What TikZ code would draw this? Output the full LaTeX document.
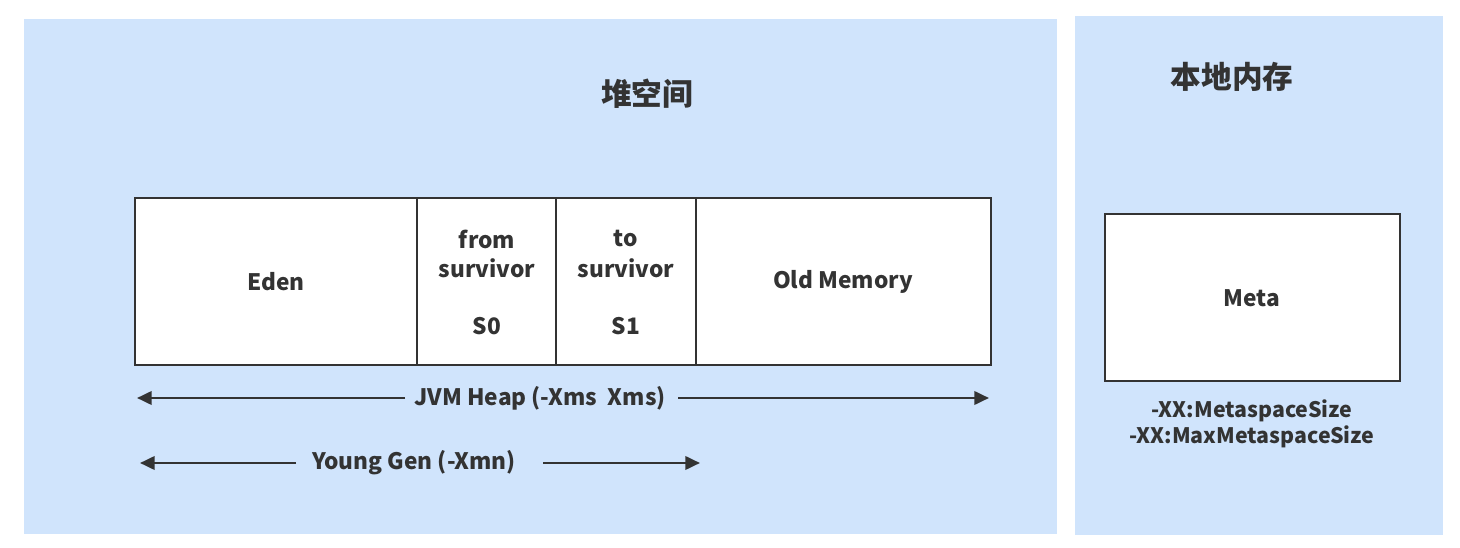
\documentclass[tikz,border=0pt]{standalone}
\usepackage{fontspec}
\setmainfont{Noto Sans CJK SC}
\usetikzlibrary{arrows.meta}
\definecolor{panelblue}{RGB}{208,228,252}
\definecolor{ink}{RGB}{51,51,51}
\tikzset{
  panel/.style={fill=panelblue, draw=none},
  cell/.style={draw=ink, line width=2.2pt, fill=white},
  lbl/.style={text=ink, font=\fontsize{17}{20}\selectfont\bfseries, align=center, inner sep=0pt},
  title/.style={text=ink, font=\fontsize{23}{27}\selectfont\bfseries, inner sep=0pt},
  arr/.style={draw=ink, line width=2pt, -{Triangle[length=11pt,width=10pt]}},
}
\begin{document}
\begin{tikzpicture}[x=0.75pt,y=-0.75pt]
\useasboundingbox (0,0) rectangle (1460,548);
\fill[white] (0,0) rectangle (1460,548);
% panels
\path[panel] (24,19) rectangle (1057,534);
\path[panel] (1075,16) rectangle (1443,535);
\node[title] (heapT) at (647,94) {堆空间};
\node[title] (nativeT) at (1232,77) {本地内存};
% heap cells
\draw[cell] (135,198) rectangle (417,365);
\draw[cell] (417,198) rectangle (556,365);
\draw[cell] (556,198) rectangle (696,365);
\draw[cell] (696,198) rectangle (991,365);
\node[lbl] (eden) at (276,282) {Eden};
\node[lbl] (from1) at (487,239) {from};
\node[lbl] (from2) at (487,268) {survivor};
\node[lbl] (s0) at (487,326) {S0};
\node[lbl] (to1) at (626,239) {to};
\node[lbl] (to2) at (626,268) {survivor};
\node[lbl] (s1) at (626,326) {S1};
\node[lbl] (old) at (843,282) {Old Memory};
% meta
\draw[cell] (1105,214) rectangle (1400,381);
\node[lbl] (meta) at (1252,298) {Meta};
\node[lbl, font=\fontsize{16}{19.5}\selectfont\bfseries] (metaopt) at (1252,424) {-XX:MetaspaceSize\\-XX:MaxMetaspaceSize};
% arrows
\node[lbl] (jvm) at (540,398) {JVM Heap (-Xms\ \ Xms)};
\coordinate (jvmLs) at (405,398);
\coordinate (jvmL) at (137,398);
\coordinate (jvmRs) at (678,398);
\coordinate (jvmR) at (989,398);
\draw[arr] (jvmLs) -- (jvmL);
\draw[arr] (jvmRs) -- (jvmR);
\node[lbl] (young) at (414,463) {Young Gen (-Xmn)};
\coordinate (youngLs) at (296,463);
\coordinate (youngL) at (140,463);
\coordinate (youngRs) at (543,463);
\coordinate (youngR) at (700,463);
\draw[arr] (youngLs) -- (youngL);
\draw[arr] (youngRs) -- (youngR);
\end{tikzpicture}
\end{document}
